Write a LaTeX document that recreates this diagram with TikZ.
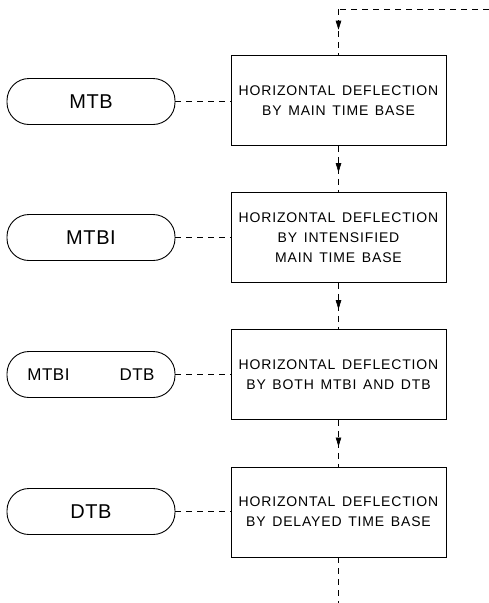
\documentclass[tikz,border=0pt]{standalone}
\usepackage{fontspec}
\newfontfamily\boxfont[LetterSpace=6,WordSpace=1.4]{Liberation Sans}
\newfontfamily\pillfont[LetterSpace=3]{Liberation Sans}
\usetikzlibrary{arrows.meta,decorations.markings}
\begin{document}
\begin{tikzpicture}[x=1pt,y=-1pt,
  line width=0.9pt,
  stepbox/.style={draw, rectangle, minimum width=215pt, minimum height=90pt,
    inner sep=0pt, align=center, font=\boxfont\fontsize{14}{20}\selectfont},
  pill/.style={draw, rectangle, rounded corners=22pt, minimum width=168pt,
    minimum height=46pt, inner sep=0pt, font=\pillfont\fontsize{20}{22}\selectfont},
  link/.style={dash pattern=on 6pt off 5pt, line width=0.6pt},
  flow/.style={dash pattern=on 6pt off 5pt, line width=0.6pt,
    postaction={decorate},
    decoration={markings, mark=at position #1 with {\arrow{Triangle[width=5.5pt,length=9pt]}}}},
  flow/.default=0.57]
\useasboundingbox (0,0) rectangle (489,603);

\node[stepbox] (b1) at (338.5,100.5) {HORIZONTAL DEFLECTION\\BY MAIN TIME BASE};
\node[stepbox] (b2) at (338.5,237.5) {HORIZONTAL DEFLECTION\\BY INTENSIFIED\\MAIN TIME BASE};
\node[stepbox] (b3) at (338.5,374.5) {HORIZONTAL DEFLECTION\\BY BOTH MTBI AND DTB};
\node[stepbox] (b4) at (338.5,512) {HORIZONTAL DEFLECTION\\BY DELAYED TIME BASE};

\node[pill] (p1) at (91,101.5) {MTB};
\node[pill] (p2) at (91,237.5) {MTBI};
\node[pill, font=\pillfont\fontsize{17}{20}\selectfont] (p3) at (91,374.5) {MTBI\hspace{50pt}DTB};
\node[pill] (p4) at (91,511.5) {DTB};

\coordinate (tr) at (489,9);
\coordinate (tc) at (338.5,9);
\coordinate (bend) at (338.5,603);

\draw[link] (tr) -- (tc);
\draw[flow=0.45] (tc) -- (b1.north);
\draw[flow] (b1.south) -- (b2.north);
\draw[flow] (b2.south) -- (b3.north);
\draw[flow] (b3.south) -- (b4.north);
\draw[link] (b4.south) -- (bend);

\draw[link] (p1.east) -- (b1.west |- p1.east);
\draw[link] (p2.east) -- (b2.west |- p2.east);
\draw[link] (p3.east) -- (b3.west |- p3.east);
\draw[link] (p4.east) -- (b4.west |- p4.east);
\end{tikzpicture}
\end{document}
